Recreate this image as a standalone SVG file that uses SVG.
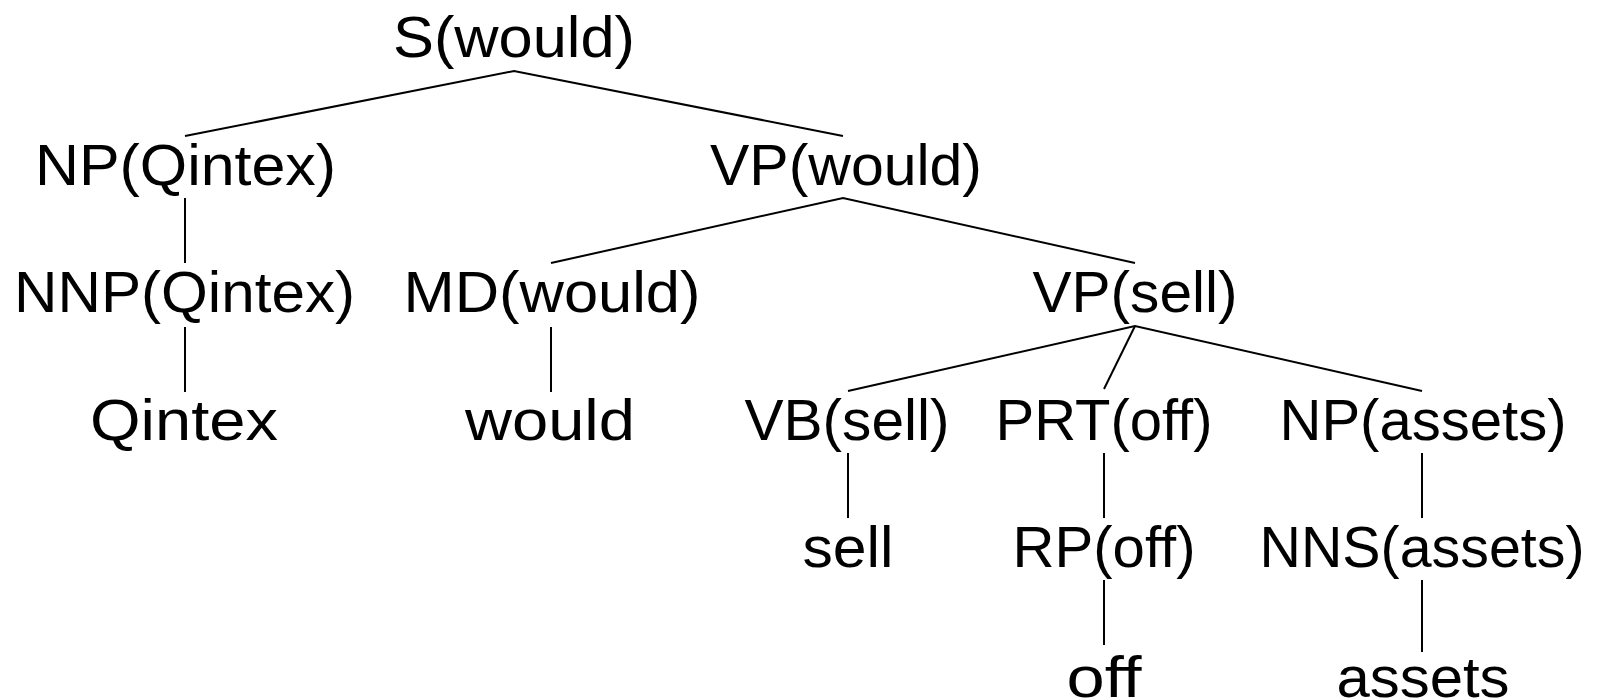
<svg xmlns="http://www.w3.org/2000/svg" width="1602" height="699" viewBox="0 0 1602 699">
  <style>
    .lbl { font-family: "Liberation Sans", Arial, sans-serif; font-size: 58px; fill: #000; text-anchor: middle; }
    .edge { stroke: #000; stroke-width: 2; fill: none; stroke-linecap: butt; }
  </style>
  <rect width="1602" height="699" fill="#fff"/>

  <!-- tree branches -->
  <g id="connectors">
    <polyline class="edge" points="185,136 514,71 843,136"/>
    <line class="edge" x1="185" y1="198" x2="185" y2="263"/>
    <polyline class="edge" points="551,263 843,198 1135,263"/>
    <line class="edge" x1="185" y1="327" x2="185" y2="392"/>
    <line class="edge" x1="551" y1="327" x2="551" y2="392"/>
    <polyline class="edge" points="848,391 1135,326 1422,391"/>
    <line class="edge" x1="1135" y1="326" x2="1104" y2="389"/>
    <line class="edge" x1="848" y1="453" x2="848" y2="518"/>
    <line class="edge" x1="1104" y1="453" x2="1104" y2="518"/>
    <line class="edge" x1="1422" y1="453" x2="1422" y2="518"/>
    <line class="edge" x1="1104" y1="580" x2="1104" y2="645"/>
    <line class="edge" x1="1422" y1="580" x2="1422" y2="652"/>
  </g>

  <g id="n-s"><text class="lbl" x="514" y="57" textLength="242" lengthAdjust="spacingAndGlyphs">S(would)</text></g>
  <g id="n-np-qintex"><text class="lbl" x="185.5" y="185" textLength="301" lengthAdjust="spacingAndGlyphs">NP(Qintex)</text></g>
  <g id="n-vp-would"><text class="lbl" x="846" y="185" textLength="272" lengthAdjust="spacingAndGlyphs">VP(would)</text></g>
  <g id="n-nnp"><text class="lbl" x="184.5" y="312" textLength="341" lengthAdjust="spacingAndGlyphs">NNP(Qintex)</text></g>
  <g id="n-md"><text class="lbl" x="552" y="312" textLength="297" lengthAdjust="spacingAndGlyphs">MD(would)</text></g>
  <g id="n-vp-sell"><text class="lbl" x="1135" y="312" textLength="205" lengthAdjust="spacingAndGlyphs">VP(sell)</text></g>
  <g id="w-qintex"><text class="lbl" x="184" y="440" textLength="188" lengthAdjust="spacingAndGlyphs">Qintex</text></g>
  <g id="w-would"><text class="lbl" x="550" y="440" textLength="170" lengthAdjust="spacingAndGlyphs">would</text></g>
  <g id="n-vb"><text class="lbl" x="847" y="440" textLength="205" lengthAdjust="spacingAndGlyphs">VB(sell)</text></g>
  <g id="n-prt"><text class="lbl" x="1104" y="440" textLength="217" lengthAdjust="spacingAndGlyphs">PRT(off)</text></g>
  <g id="n-np-assets"><text class="lbl" x="1423" y="440" textLength="287" lengthAdjust="spacingAndGlyphs">NP(assets)</text></g>
  <g id="w-sell"><text class="lbl" x="848" y="567" textLength="91" lengthAdjust="spacingAndGlyphs">sell</text></g>
  <g id="n-rp"><text class="lbl" x="1104" y="567" textLength="183" lengthAdjust="spacingAndGlyphs">RP(off)</text></g>
  <g id="n-nns"><text class="lbl" x="1422" y="567" textLength="325" lengthAdjust="spacingAndGlyphs">NNS(assets)</text></g>
  <g id="w-off"><text class="lbl" x="1104" y="697" textLength="75" lengthAdjust="spacingAndGlyphs">off</text></g>
  <g id="w-assets"><text class="lbl" x="1423" y="697" textLength="173" lengthAdjust="spacingAndGlyphs">assets</text></g>
</svg>
